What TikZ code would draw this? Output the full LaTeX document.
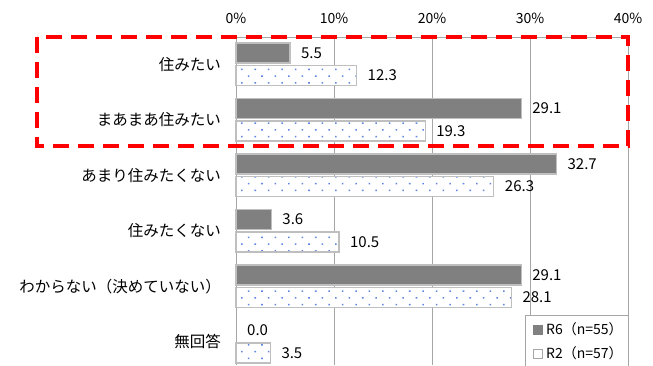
\documentclass[tikz,border=0pt]{standalone}
\usepackage{fontspec}
\setmainfont{Noto Sans CJK JP}
\usetikzlibrary{patterns.meta, calc}
\definecolor{dotblue}{RGB}{95,135,225}
\tikzstyle{gridline} = [draw=gray!70, line width=0.8pt]
\tikzstyle{barsix} = [draw=gray!50, line width=1.2pt, fill=gray]
\tikzstyle{bartwo} = [draw=gray!50, line width=1.2pt, preaction={fill=white}, pattern={Dots[distance=9.5pt, angle=45, radius=1.1pt]}, pattern color=dotblue]
\tikzstyle{vallabel} = [anchor=west, inner sep=0pt, font=\fontsize{15}{15}\selectfont]
\tikzstyle{catlabel} = [anchor=east, inner sep=0pt, font=\fontsize{15.5}{15.5}\selectfont]
\tikzstyle{ticklabel} = [inner sep=0pt, font=\fontsize{14}{14}\selectfont]
\tikzstyle{legtext} = [anchor=west, inner sep=0pt, font=\fontsize{14}{14}\selectfont]
\tikzstyle{highlight} = [draw=red, line width=4pt, dash pattern=on 16pt off 9pt]
\begin{document}
\begin{tikzpicture}[x=1pt, y=-1pt]
    \useasboundingbox (0,0) rectangle (653,365);
    % Grid and axis
    \foreach \p in {0,10,20,30,40} {
        \draw[gridline] (236+9.8*\p,37) -- (236+9.8*\p,365);
        \node[ticklabel] (tick\p) at (236+9.8*\p,18) {\p\%};
    }
    \draw[gridline] (236,37) -- (628,37);

    % Bars - R6 on top, R2 below
    \foreach \lab/\six/\two [count=\i from 0] in {住みたい/5.5/12.3, まあまあ住みたい/29.1/19.3, あまり住みたくない/32.7/26.3, 住みたくない/3.6/10.5, わからない（決めていない）/29.1/28.1, 無回答/0.0/3.5} {
        \pgfmathsetmacro{\ytop}{43+55.5*\i}
        \ifdim\six pt>0pt
            \draw[barsix] (236,\ytop) rectangle (236+9.8*\six,\ytop+20);
        \fi
        \node[vallabel] (six\i) at (236+9.8*\six+11,\ytop+10) {\six};
        \draw[bartwo] (236,\ytop+22.5) rectangle (236+9.8*\two,\ytop+42.5);
        \node[vallabel] (two\i) at (236+9.8*\two+11,\ytop+32.5) {\two};
        \node[catlabel] (cat\i) at (221,\ytop+21.5) {\lab};
    }

    % Legend
    \draw[gridline, fill=white] (525,315) rectangle (628,367);
    \draw[fill=gray, draw=gray] (533,325) rectangle (542,334);
    \node[legtext] (legsix) at (546,329.5) {R6（n=55）};
    \draw[fill=white, draw=gray!70, line width=0.8pt] (533,349) rectangle (542,358);
    \node[legtext] (legtwo) at (546,353.5) {R2（n=57）};

    % Highlight
    \draw[highlight] (37,37) rectangle (628,146);
\end{tikzpicture}
\end{document}
